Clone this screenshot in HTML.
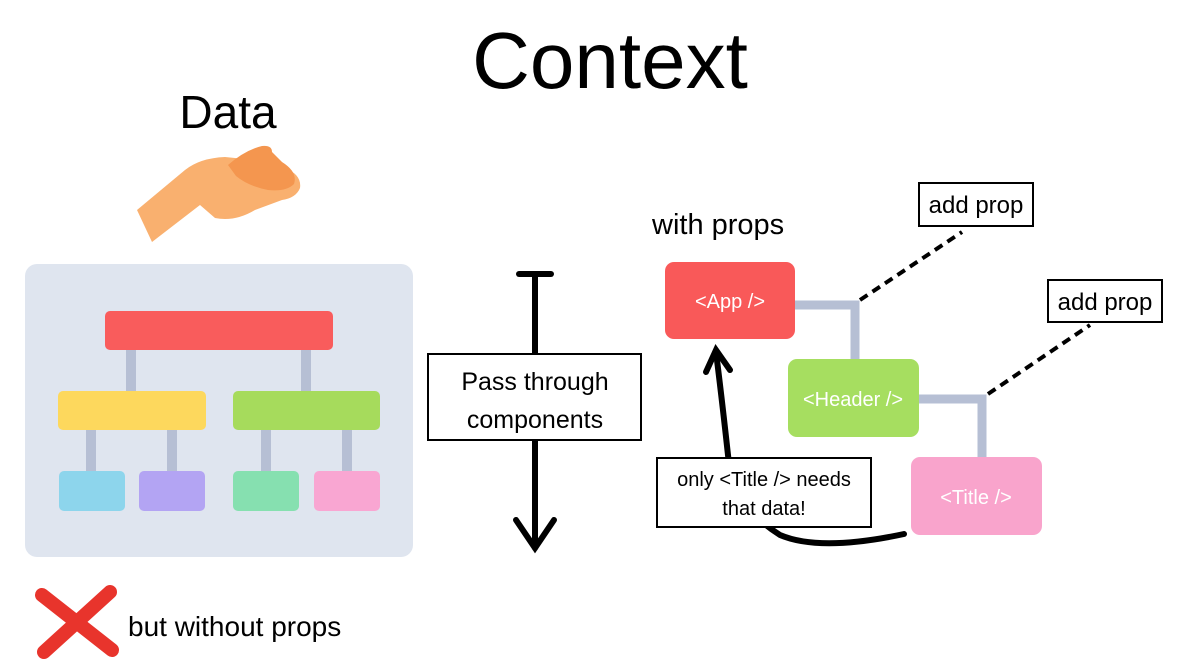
<!DOCTYPE html>
<html><head><meta charset="utf-8"><style>
html,body{margin:0;padding:0;background:#fff;}
svg{display:block;}
text{font-family:"Liberation Sans",sans-serif;}
</style></head><body>
<svg width="1182" height="664" viewBox="0 0 1182 664" xmlns="http://www.w3.org/2000/svg">
<text x="610" y="88" font-size="80" text-anchor="middle" fill="#000">Context</text>
<text x="228" y="128" font-size="46" text-anchor="middle" fill="#000">Data</text>
<!-- hand -->
<path d="M137,210 L185,170 Q200,158 225,157 L255,160 L285,168 Q302,175 300,188 Q296,198 282,200 L255,210 Q235,222 215,218 L200,205 L152,242 Z" fill="#f9b06f"/>
<path d="M228,165 Q245,150 262,146 Q272,145 272,152 L282,162 Q298,172 294,184 Q286,192 268,190 Q248,186 236,176 Z" fill="#f4964f"/>
<!-- left panel -->
<rect x="25" y="264" width="388" height="293" rx="12" fill="#dfe5ef"/>
<g fill="#b6bfd4">
<rect x="126" y="350" width="10" height="41"/><rect x="301" y="350" width="10" height="41"/>
<rect x="86" y="430" width="10" height="41"/><rect x="167" y="430" width="10" height="41"/>
<rect x="261" y="430" width="10" height="41"/><rect x="342" y="430" width="10" height="41"/>
</g>
<rect x="105" y="311" width="228" height="39" rx="5" fill="#f95c5c"/>
<rect x="58" y="391" width="148" height="39" rx="5" fill="#fdd85d"/>
<rect x="233" y="391" width="147" height="39" rx="5" fill="#a6db5c"/>
<rect x="59" y="471" width="66" height="40" rx="5" fill="#8dd5ec"/>
<rect x="139" y="471" width="66" height="40" rx="5" fill="#b3a4f3"/>
<rect x="233" y="471" width="66" height="40" rx="5" fill="#86e0b0"/>
<rect x="314" y="471" width="66" height="40" rx="5" fill="#f9a6d2"/>
<!-- red X -->
<g stroke="#e8342c" stroke-width="14" stroke-linecap="round">
<line x1="42" y1="595" x2="112" y2="650"/><line x1="110" y1="592" x2="44" y2="652"/>
</g>
<text x="128" y="636" font-size="28" fill="#000">but without props</text>
<!-- middle arrow -->
<g stroke="#000" stroke-width="6" fill="none" stroke-linecap="round">
<line x1="519" y1="274" x2="551" y2="274"/>
<line x1="535" y1="274" x2="535" y2="548"/>
<polyline points="516,520 535,548 554,520"/>
</g>
<rect x="428" y="354" width="213" height="86" fill="#fff" stroke="#000" stroke-width="2"/>
<text x="535" y="390" font-size="25" text-anchor="middle">Pass through</text>
<text x="535" y="428" font-size="25" text-anchor="middle">components</text>
<!-- right -->
<text x="652" y="234" font-size="29">with props</text>
<g fill="none" stroke="#b6bfd4" stroke-width="9">
<polyline points="795,305 855,305 855,359"/>
<polyline points="919,399 982,399 982,457"/>
</g>
<g stroke="#000" stroke-width="4" stroke-dasharray="9,6">
<line x1="860" y1="300" x2="962" y2="232"/>
<line x1="988" y1="394" x2="1090" y2="325"/>
</g>
<rect x="665" y="262" width="130" height="77" rx="9" fill="#f95959"/>
<text x="730" y="308" font-size="20" fill="#fff" text-anchor="middle">&lt;App /&gt;</text>
<rect x="788" y="359" width="131" height="78" rx="9" fill="#a6de60"/>
<text x="853" y="406" font-size="20" fill="#fff" text-anchor="middle">&lt;Header /&gt;</text>
<rect x="911" y="457" width="131" height="78" rx="9" fill="#f9a4cc"/>
<text x="976" y="504" font-size="20" fill="#fff" text-anchor="middle">&lt;Title /&gt;</text>
<rect x="919" y="183" width="114" height="43" fill="#fff" stroke="#000" stroke-width="2"/>
<text x="976" y="213" font-size="24" text-anchor="middle">add prop</text>
<rect x="1048" y="280" width="114" height="42" fill="#fff" stroke="#000" stroke-width="2"/>
<text x="1105" y="310" font-size="24" text-anchor="middle">add prop</text>
<!-- curved arrow -->
<g stroke="#000" stroke-width="6" fill="none" stroke-linecap="round">
<path d="M904,534 Q820,552 780,535 Q732,505 728,455 Q722,400 716,352"/>
<polyline points="706,372 716,350 730,370"/>
</g>
<rect x="657" y="458" width="214" height="69" fill="#fff" stroke="#000" stroke-width="2"/>
<text x="764" y="486" font-size="20" text-anchor="middle">only &lt;Title /&gt; needs</text>
<text x="764" y="515" font-size="20" text-anchor="middle">that data!</text>
</svg>
</body></html>
